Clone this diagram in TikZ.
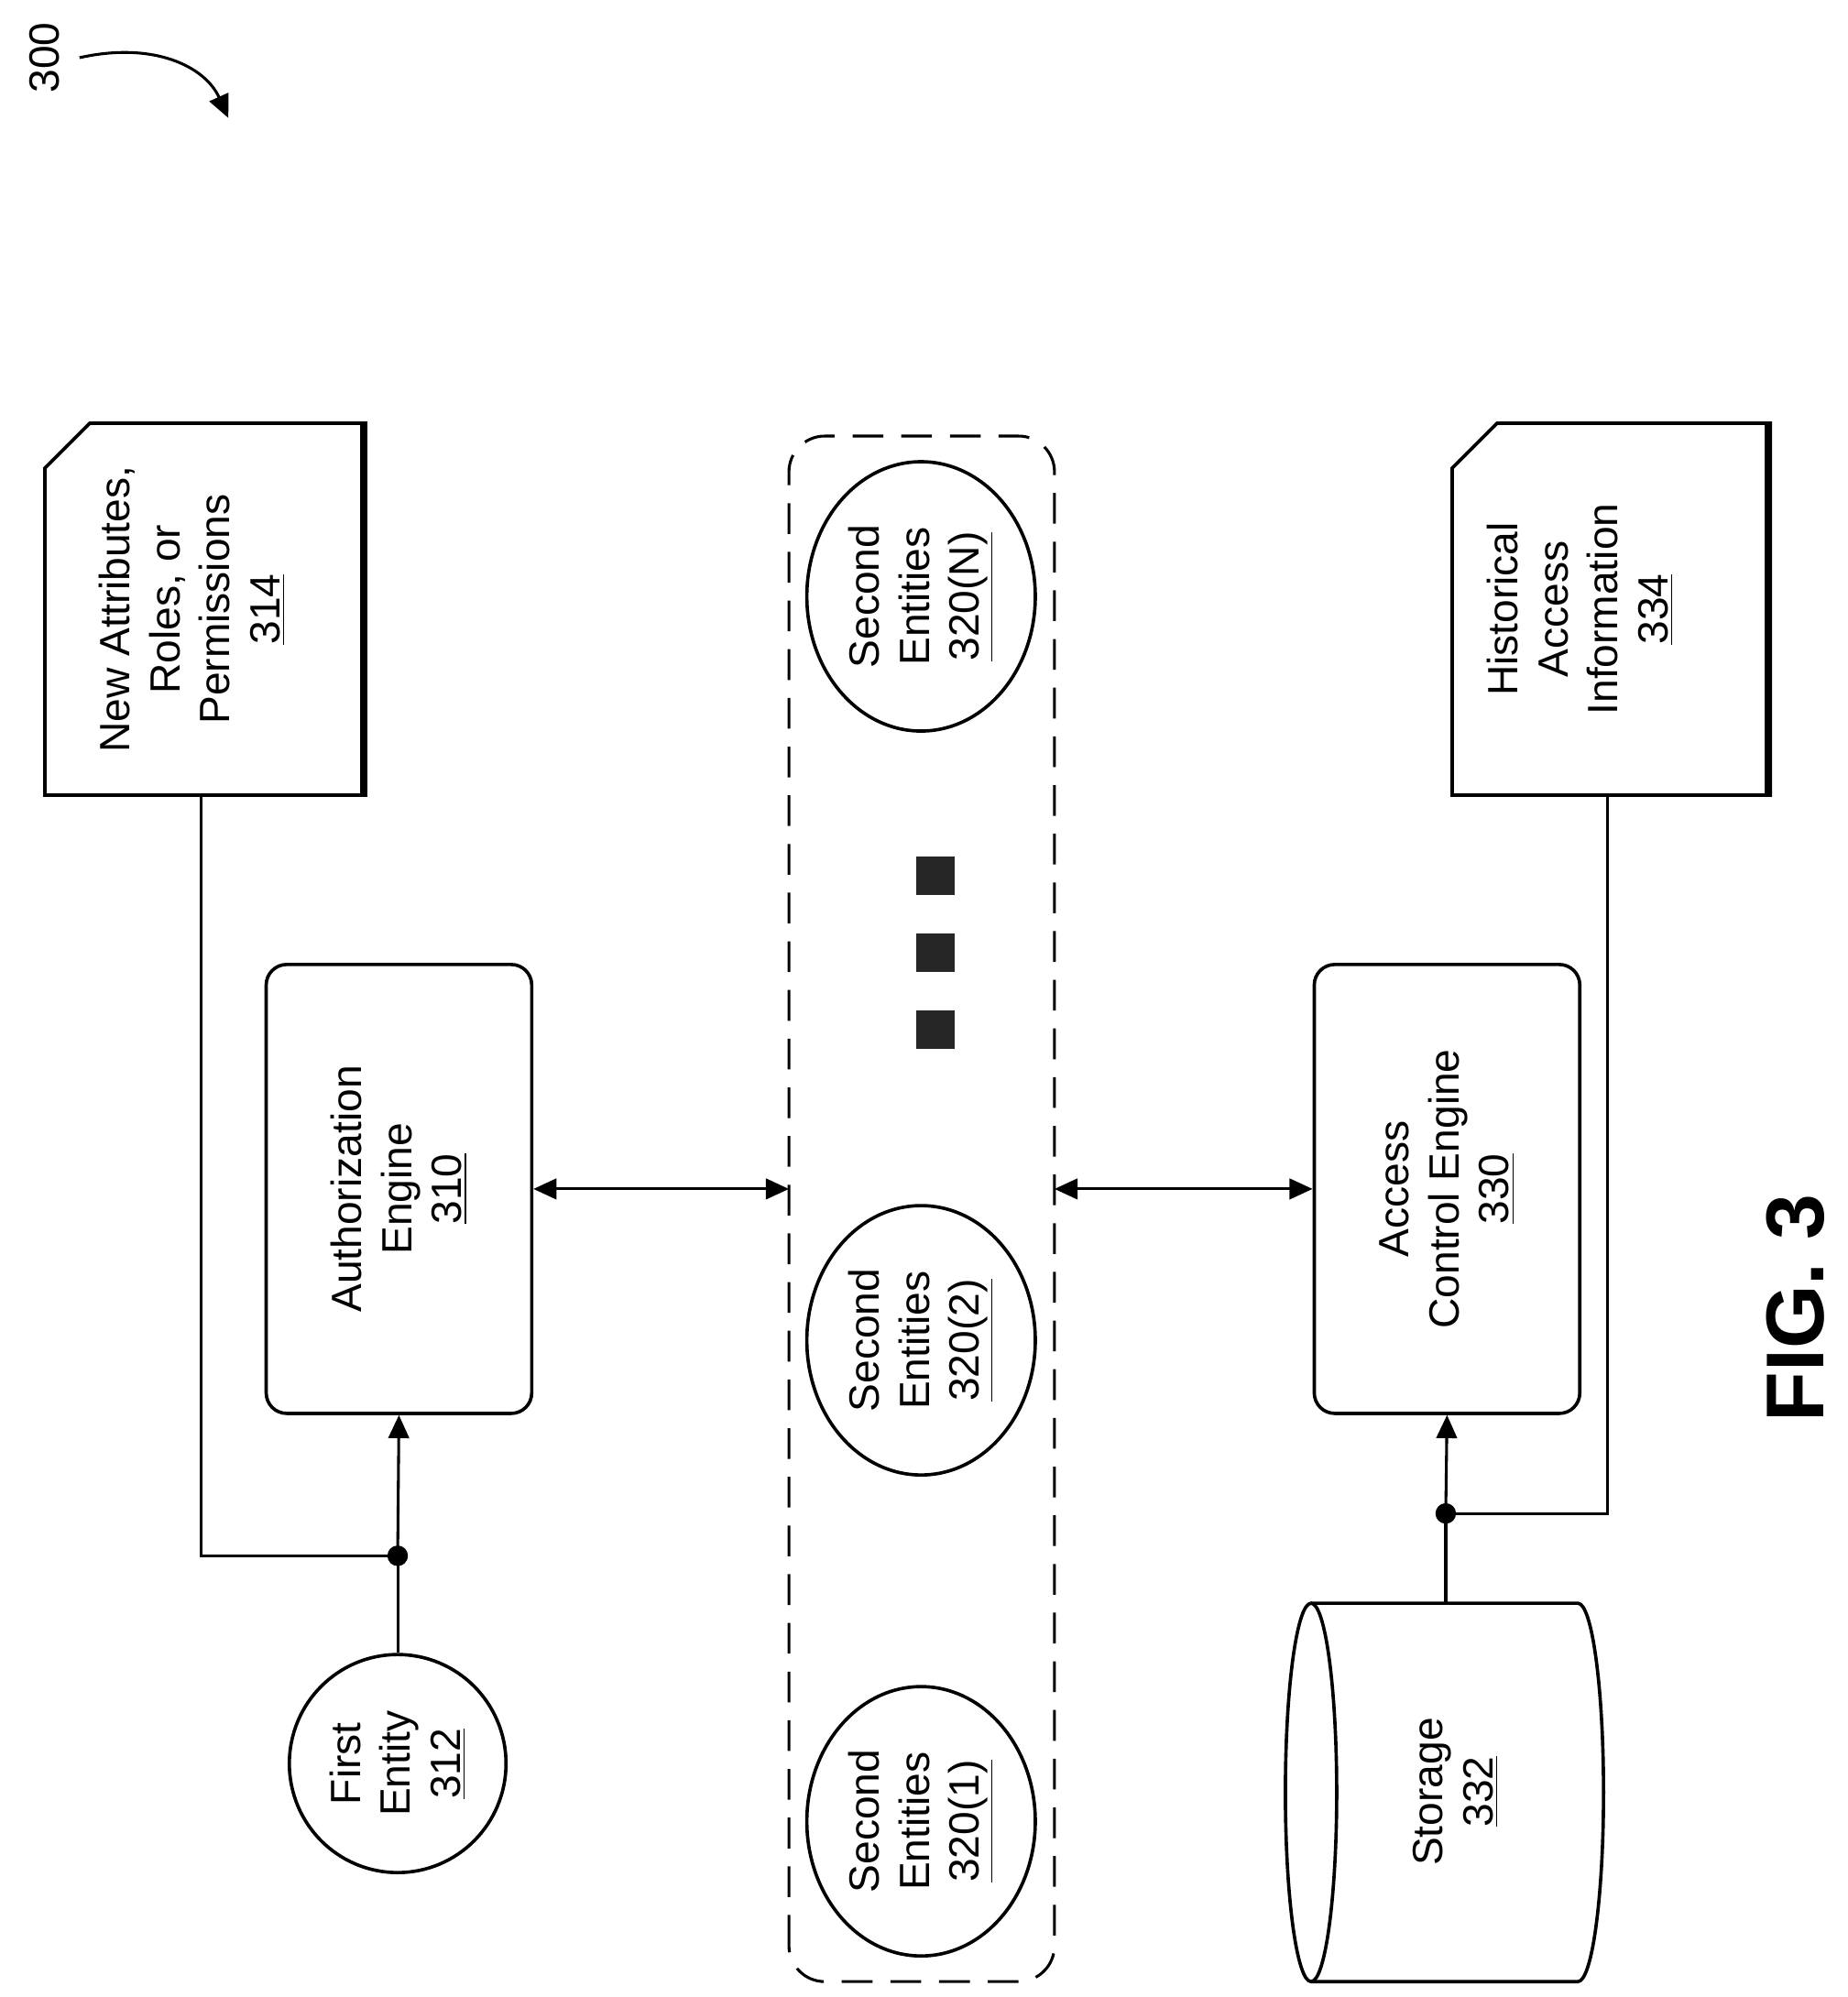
\documentclass[tikz,border=0pt]{standalone}
\usepackage{fontspec}
\setmainfont{Liberation Sans}
\usetikzlibrary{positioning,arrows.meta,shapes.geometric}
\tikzset{
  lbl/.style={rotate=90,align=center,font=\fontsize{16.5}{19.5}\selectfont},
  engine/.style={draw,line width=1.3pt,rounded corners=8pt,minimum width=350*0.0176cm,minimum height=207*0.0176cm,rotate=90,align=center,font=\fontsize{16.5}{19.5}\selectfont},
  entity/.style={draw,line width=1.3pt,ellipse,minimum width=170*0.0176cm,minimum height=150*0.0176cm,rotate=90,align=center,font=\fontsize{16.5}{19.5}\selectfont},
  link/.style={line width=1.1pt},
  tip/.style={-{Triangle[length=9pt,width=8pt]}},
  dtip/.style={{Triangle[length=9pt,width=8pt]}-{Triangle[length=9pt,width=8pt]}},
}
\begin{document}
\begin{tikzpicture}[x=0.0176cm,y=0.0176cm]
        \useasboundingbox (0,0) rectangle (1440,1557);
        % Figure number
        \node[lbl] (fignum) at (35,1512) {300};
        \coordinate (figend) at (178,1465);
        \draw[link,tip] (62,1512) .. controls (120,1525) and (160,1505) .. (figend);
        % Documents
        \draw[line width=1.3pt] (35,937) -- (35,1192) -- (70,1227) -- (285,1227) -- (285,937) -- cycle;
        \draw[line width=2.5pt] (283,1227) -- (283,937);
        \node[lbl] (attr) at (150,1082) {New Attributes,\\Roles, or\\Permissions\\\underline{314}};
        \coordinate (attrb) at (157,937);
        \draw[line width=1.3pt] (1132,937) -- (1132,1192) -- (1167,1227) -- (1380,1227) -- (1380,937) -- cycle;
        \draw[line width=2.5pt] (1378,1227) -- (1378,937);
        \node[lbl] (hist) at (1232,1082) {Historical\\Access\\Information\\\underline{334}};
        \coordinate (histb) at (1253,937);
        % Engines
        \node[engine] (auth) at (311,630) {Authorization\\Engine\\\underline{310}};
        \node[engine] (acc) at (1128,630) {Access\\Control Engine\\\underline{330}};
        % First entity
        \node[entity] (first) at (310,182) {First\\Entity\\\underline{312}};
        \coordinate (dotA) at (310,344);
        \fill (dotA) circle (8);
        \draw[link] (first.east) -- (dotA);
        \draw[link,tip] (dotA) -- (auth.west);
        \draw[link] (attrb) |- (dotA);
        % Second entities
        \draw[line width=1.1pt,dash pattern=on 12pt off 7pt,rounded corners=14pt] (615,12) rectangle (822,1217);
        \coordinate (grpL) at (615,630);
        \coordinate (grpR) at (822,630);
        \node[entity,minimum width=210*0.0176cm,minimum height=145*0.0176cm] (sec1) at (718,137) {Second\\Entities\\\underline{320(1)}};
        \node[entity,minimum width=210*0.0176cm,minimum height=145*0.0176cm] (sec2) at (718,512) {Second\\Entities\\\underline{320(2)}};
        \node[entity,minimum width=210*0.0176cm,minimum height=145*0.0176cm] (secN) at (718,1092) {Second\\Entities\\\underline{320(N)}};
        \foreach \y in {754,814,874}
            \fill[black!85] (714,\y-15) rectangle (744,\y+15);
        \draw[link,dtip] (auth.south) -- (grpL);
        \draw[link,dtip] (grpR) -- (acc.north);
        % Storage
        \draw[line width=1.3pt] (1022,307) -- (1230,307) arc[start angle=90,end angle=-90,x radius=20,y radius=147.5] -- (1022,12);
        \draw[line width=1.3pt] (1022,159.5) ellipse[x radius=20,y radius=147.5];
        \node[lbl] (stor) at (1135,160) {Storage\\\underline{332}};
        \coordinate (storT) at (1127,307);
        \coordinate (dotB) at (1127,377);
        \fill (dotB) circle (8);
        \draw[link] (storT) -- (dotB);
        \draw[link,tip] (dotB) -- (acc.west);
        \draw[link] (histb) |- (dotB);
        % Caption
        \node[rotate=90,font=\bfseries\fontsize{32}{36}\selectfont] (cap) at (1400,537) {FIG. 3};
\end{tikzpicture}
\end{document}
